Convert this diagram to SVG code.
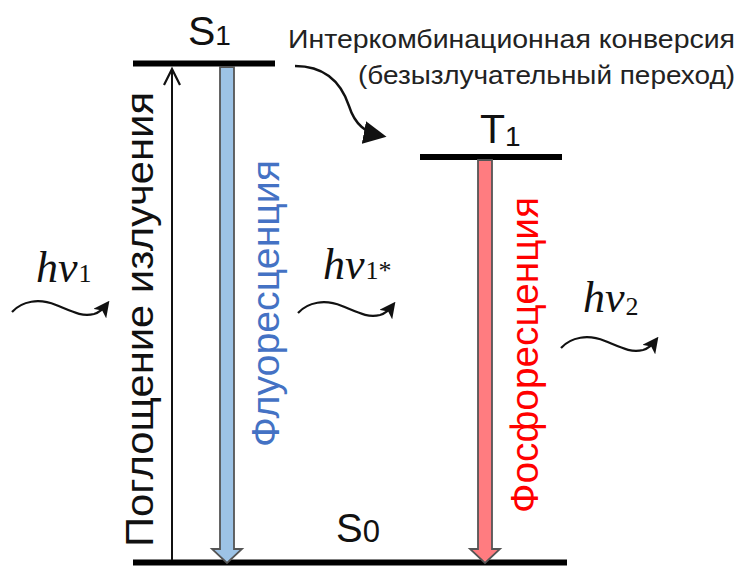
<svg xmlns="http://www.w3.org/2000/svg" width="739" height="566" viewBox="0 0 739 566">
<style>
.lvl{fill:#000}
.sym{font-family:"Liberation Sans",Arial,sans-serif;fill:#111}
.lab{font-family:"Liberation Sans",Arial,sans-serif;font-size:39px}
.hv{font-family:"Liberation Serif","Times New Roman",serif;font-style:italic;font-size:44px;fill:#111}
.sub{font-style:normal;font-size:26px}
.wave{fill:none;stroke:#111;stroke-width:2.2}
.note{font-family:"Liberation Sans",Arial,sans-serif;font-size:26px;fill:#222}
</style>
<defs>
<marker id="ah" viewBox="0 0 12 12" refX="9" refY="6" markerWidth="16" markerHeight="16" markerUnits="userSpaceOnUse" orient="auto">
<path d="M0,0 L12,6 L0,12 L3,6 z" fill="#111"/>
</marker>
<marker id="ahBig" viewBox="0 0 20 20" refX="16" refY="10" markerWidth="23" markerHeight="23" markerUnits="userSpaceOnUse" orient="auto">
<path d="M0,0 L20,10 L0,20 z" fill="#111"/>
</marker>
<path id="wv" d="M0,0 C10,-11 27,-14 44,-7 S70,5 82,2 Q89,0 95,-8"/>
</defs>
<rect width="739" height="566" fill="#fff"/>

<g id="S1">
<rect class="lvl" x="133" y="60.5" width="142" height="6"/>
<text class="sym" x="188" y="45" font-size="41">S<tspan font-size="28">1</tspan></text>
</g>
<g id="T1">
<rect class="lvl" x="420" y="154" width="142" height="6"/>
<text class="sym" x="480" y="143" font-size="41">T<tspan font-size="28" dy="3">1</tspan></text>
</g>
<g id="S0">
<rect class="lvl" x="133" y="559.5" width="434" height="6"/>
<text class="sym" x="336" y="542" font-size="40">S<tspan font-size="31">0</tspan></text>
</g>

<g id="intersystem-label">
<text class="note" x="735" y="48" text-anchor="end" textLength="447" lengthAdjust="spacingAndGlyphs">Интеркомбинационная конверсия</text>
<text class="note" x="735" y="84" text-anchor="end" textLength="377" lengthAdjust="spacingAndGlyphs">(безызлучательный переход)</text>
</g>

<g id="hv1">
<text class="hv" x="36" y="282">hv<tspan class="sub" dx="1">1</tspan></text>
</g>
<g id="hv1star">
<text class="hv" x="323" y="279">hv<tspan class="sub" dx="1">1*</tspan></text>
</g>
<g id="hv2">
<text class="hv" x="583" y="312">hv<tspan class="sub" dx="1" dy="3">2</tspan></text>
</g>

<g id="absorption-label">
<text class="lab" fill="#111" transform="translate(153,547) rotate(-90)" textLength="455" lengthAdjust="spacingAndGlyphs">Поглощение излучения</text>
</g>
<g id="fluorescence-label">
<text class="lab" fill="#4472C4" transform="translate(279,447) rotate(-90)" textLength="287" lengthAdjust="spacingAndGlyphs">Флуоресценция</text>
</g>
<g id="phosphorescence-label">
<text class="lab" fill="#FF0000" transform="translate(538,513) rotate(-90)" textLength="316" lengthAdjust="spacingAndGlyphs">Фосфоресценция</text>
</g>

<g id="connectors">
<line x1="172" y1="560" x2="172" y2="71" stroke="#111" stroke-width="2"/>
<path d="M164,85 L172,69 L180,85" fill="none" stroke="#111" stroke-width="2.2"/>
<path d="M220,67 L234,67 L234,549 L242,549 L227,563 L212,549 L220,549 Z" fill="#9DC3E6" stroke="#555" stroke-width="1.8"/>
<path d="M478,160 L492,160 L492,549 L500,549 L485,563 L470,549 L478,549 Z" fill="#FF7C80" stroke="#555" stroke-width="1.8"/>
<path d="M295,66 C330,66 343,88 349,106 C355,125 366,133 382,136" fill="none" stroke="#111" stroke-width="2.4" marker-end="url(#ahBig)"/>
<use href="#wv" class="wave" transform="translate(12,312)" marker-end="url(#ah)"/>
<use href="#wv" class="wave" transform="translate(298,313)" marker-end="url(#ah)"/>
<use href="#wv" class="wave" transform="translate(561,348)" marker-end="url(#ah)"/>
</g>
</svg>
